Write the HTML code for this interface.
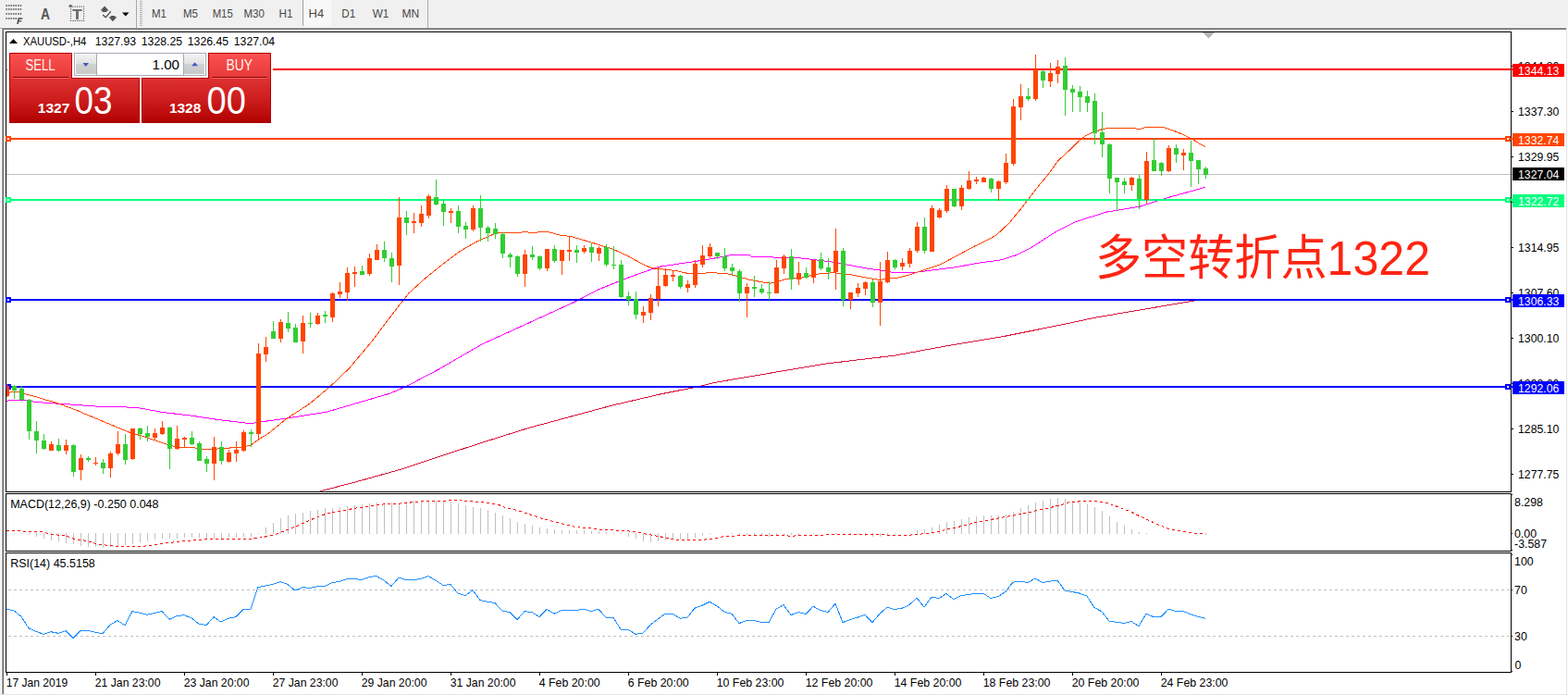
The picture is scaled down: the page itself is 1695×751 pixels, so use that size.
<!DOCTYPE html>
<html><head><meta charset="utf-8"><title>XAUUSD H4</title>
<style>
html,body{margin:0;padding:0;background:#fff;}
body{width:1695px;height:751px;overflow:hidden;position:relative;font-family:"Liberation Sans",sans-serif;}
svg{position:absolute;left:0;top:0;}
svg text{font-family:"Liberation Sans",sans-serif;}
</style></head><body>
<svg width="1695" height="751" viewBox="0 0 1695 751">
<rect x="0" y="0" width="1695" height="751" fill="#ffffff"/>
<rect x="0" y="0" width="1695" height="29" fill="#f0f0f0"/>
<rect x="0" y="29" width="1695" height="1" fill="#f8f8f8"/>
<rect x="0" y="30" width="1693" height="1" fill="#a0a0a0"/>
<rect x="2" y="31" width="1691" height="1" fill="#696969"/>
<rect x="0" y="31" width="1" height="720" fill="#f0f0f0"/>
<rect x="1" y="31" width="1" height="720" fill="#ffffff"/>
<rect x="2" y="31" width="1" height="719" fill="#a0a0a0"/>
<rect x="3" y="32" width="1" height="718" fill="#696969"/>
<rect x="1693" y="30" width="1" height="721" fill="#e3e3e3"/>
<rect x="1694" y="30" width="1" height="721" fill="#ffffff"/>
<rect x="0" y="750" width="1695" height="1" fill="#e6e6e6"/>
<rect x="6" y="34" width="1628" height="1" fill="#000"/>
<rect x="6" y="531" width="1628" height="1" fill="#000"/>
<rect x="6" y="34" width="1" height="498" fill="#000"/>
<rect x="1633" y="34" width="1" height="498" fill="#000"/>
<rect x="6" y="533" width="1628" height="1" fill="#000"/>
<rect x="6" y="595" width="1628" height="1" fill="#000"/>
<rect x="6" y="533" width="1" height="63" fill="#000"/>
<rect x="1633" y="533" width="1" height="63" fill="#000"/>
<rect x="6" y="597" width="1628" height="1" fill="#000"/>
<rect x="6" y="726" width="1628" height="1" fill="#000"/>
<rect x="6" y="597" width="1" height="130" fill="#000"/>
<rect x="1633" y="597" width="1" height="130" fill="#000"/>
<defs><clipPath id="cm"><rect x="7" y="35" width="1626" height="496"/></clipPath><clipPath id="c2"><rect x="7" y="534" width="1626" height="61"/></clipPath><clipPath id="c3"><rect x="7" y="598" width="1626" height="128"/></clipPath></defs>
<g clip-path="url(#cm)" shape-rendering="crispEdges">
<rect x="7" y="188" width="1626" height="1" fill="#c0c0c0"/>
<polyline points="346.2,530.8 386.0,520.4 433.2,507.2 477.5,492.4 530.6,475.3 571.9,462.3 610.2,452.0 660.4,438.4 713.5,426.0 757.7,417.2 772.5,413.4 830.0,403.6 893.7,392.9 967.5,384.1 1026.5,373.2 1085.5,363.4 1144.5,351.6 1182.8,343.4 1233.0,334.8 1290.5,325.1 1303.0,323.2" fill="none" stroke="#dc143c" stroke-width="1"/>
<polyline points="7.0,433.5 11.5,432.5 27.5,432.5 32.0,433.5 40.0,434.5 52.0,435.5 68.0,436.5 84.0,437.5 98.0,438.6 111.9,439.8 130.5,439.7 149.2,440.6 177.1,445.7 205.1,448.9 233.1,453.1 251.7,455.4 271.2,457.7 278.6,456.4 310.0,452.0 353.0,445.2 422.0,425.0 439.0,417.6 474.4,399.0 521.0,372.0 560.0,354.2 600.0,336.0 624.2,324.8 646.6,313.0 674.6,301.8 693.2,294.9 711.9,288.4 730.5,285.6 749.2,282.8 764.1,280.6 779.0,277.8 788.3,275.9 810.7,275.9 812.6,277.2 838.7,278.1 868.5,279.1 879.7,280.6 898.6,282.9 917.3,286.4 935.9,289.8 954.6,292.6 965.8,294.4 991.9,294.0 1010.5,291.6 1034.8,288.5 1057.1,284.2 1081.4,281.0 1098.2,275.8 1115.0,267.4 1141.1,250.6 1163.4,239.4 1180.0,234.2 1195.3,229.2 1231.9,223.2 1259.2,214.5 1302.9,202.3" fill="none" stroke="#ff00ff" stroke-width="1"/>
<polyline points="7.0,428.5 11.5,423.6 20.0,423.6 26.0,425.5 32.0,426.9 41.3,429.3 50.1,432.3 59.0,434.5 67.8,437.7 76.7,441.0 85.0,444.2 93.2,447.8 121.2,459.5 139.8,467.1 158.5,472.7 180.9,480.2 193.9,483.9 210.7,483.9 221.9,485.8 238.7,484.8 261.0,483.0 270.4,481.5 279.7,474.6 288.0,470.0 310.3,452.1 334.6,436.3 357.0,417.6 377.5,398.0 401.7,369.2 430.6,331.0 441.9,316.8 460.5,300.0 479.2,285.1 497.8,271.1 516.5,260.5 535.1,252.5 542.6,251.2 563.0,251.2 568.7,250.2 572.4,251.5 587.3,250.6 592.9,250.6 606.0,254.3 617.0,255.4 637.3,261.4 661.5,268.8 678.3,276.3 693.2,284.7 704.4,289.7 719.3,291.2 730.5,292.5 743.6,295.5 758.5,295.5 767.8,294.4 786.5,295.9 797.7,298.7 810.7,302.4 823.8,304.8 832.2,306.1 840.5,304.2 851.7,301.1 864.8,300.5 876.0,297.7 887.2,295.5 900.5,294.8 917.3,296.3 935.9,300.0 950.9,302.4 962.0,300.9 969.5,300.4 984.4,296.7 999.3,291.6 1016.1,286.0 1034.8,276.1 1053.4,266.1 1070.2,258.1 1077.7,253.4 1090.7,241.3 1103.8,225.4 1113.1,213.3 1122.4,201.2 1131.5,190.5 1144.4,173.1 1155.6,162.8 1160.0,158.6 1168.7,150.1 1174.0,146.5 1180.0,143.7 1186.0,141.8 1189.0,140.3 1194.0,139.3 1196.0,138.5 1227.5,138.5 1229.0,139.5 1233.0,139.5 1235.5,138.5 1238.0,137.5 1257.5,137.5 1265.1,139.9 1272.0,142.6 1278.9,145.3 1285.0,148.6 1291.2,151.8 1296.6,155.2 1302.7,158.5" fill="none" stroke="#ff4500" stroke-width="1"/>
<rect x="295" y="74" width="1338" height="2" fill="#ff0000"/>
<rect x="7" y="75" width="1" height="1" fill="#ff0000"/>
<rect x="7" y="149" width="1626" height="2" fill="#ff4500"/>
<rect x="7" y="215" width="1626" height="2" fill="#00ff7f"/>
<rect x="7" y="323" width="1626" height="2" fill="#0000ff"/>
<rect x="7" y="417" width="1626" height="2" fill="#0000ff"/>
</g>
<rect x="6" y="147" width="6" height="6" fill="#ff4500" shape-rendering="crispEdges"/><rect x="8" y="149" width="2" height="2" fill="#fff" shape-rendering="crispEdges"/>
<rect x="1627" y="147" width="6" height="6" fill="#ff4500" shape-rendering="crispEdges"/><rect x="1629" y="149" width="2" height="2" fill="#fff" shape-rendering="crispEdges"/>
<rect x="1633" y="149" width="2" height="2" fill="#ff4500" shape-rendering="crispEdges"/>
<rect x="6" y="213" width="6" height="6" fill="#00ff7f" shape-rendering="crispEdges"/><rect x="8" y="215" width="2" height="2" fill="#fff" shape-rendering="crispEdges"/>
<rect x="1627" y="213" width="6" height="6" fill="#00ff7f" shape-rendering="crispEdges"/><rect x="1629" y="215" width="2" height="2" fill="#fff" shape-rendering="crispEdges"/>
<rect x="1633" y="215" width="2" height="2" fill="#00ff7f" shape-rendering="crispEdges"/>
<rect x="6" y="321" width="6" height="6" fill="#0000ff" shape-rendering="crispEdges"/><rect x="8" y="323" width="2" height="2" fill="#fff" shape-rendering="crispEdges"/>
<rect x="1627" y="321" width="6" height="6" fill="#0000ff" shape-rendering="crispEdges"/><rect x="1629" y="323" width="2" height="2" fill="#fff" shape-rendering="crispEdges"/>
<rect x="1633" y="323" width="2" height="2" fill="#0000ff" shape-rendering="crispEdges"/>
<rect x="6" y="415" width="6" height="6" fill="#0000ff" shape-rendering="crispEdges"/><rect x="8" y="417" width="2" height="2" fill="#fff" shape-rendering="crispEdges"/>
<rect x="1627" y="415" width="6" height="6" fill="#0000ff" shape-rendering="crispEdges"/><rect x="1629" y="417" width="2" height="2" fill="#fff" shape-rendering="crispEdges"/>
<rect x="1633" y="417" width="2" height="2" fill="#0000ff" shape-rendering="crispEdges"/>
<rect x="1633" y="74" width="2" height="2" fill="#ff0000" shape-rendering="crispEdges"/>
<g clip-path="url(#cm)" shape-rendering="crispEdges">
<rect x="7" y="415" width="1" height="14" fill="#ff4500"/>
<rect x="5" y="417" width="5" height="11" fill="#ff4500"/>
<rect x="15" y="416" width="1" height="15" fill="#32cd32"/>
<rect x="13" y="417" width="5" height="5" fill="#32cd32"/>
<rect x="23" y="417" width="1" height="17" fill="#32cd32"/>
<rect x="21" y="420" width="5" height="12" fill="#32cd32"/>
<rect x="31" y="431" width="1" height="44" fill="#32cd32"/>
<rect x="29" y="432" width="5" height="34" fill="#32cd32"/>
<rect x="39" y="455" width="1" height="35" fill="#32cd32"/>
<rect x="37" y="466" width="5" height="10" fill="#32cd32"/>
<rect x="47" y="469" width="1" height="17" fill="#32cd32"/>
<rect x="45" y="476" width="5" height="9" fill="#32cd32"/>
<rect x="55" y="477" width="1" height="10" fill="#ff4500"/>
<rect x="53" y="480" width="5" height="7" fill="#ff4500"/>
<rect x="63" y="474" width="1" height="14" fill="#32cd32"/>
<rect x="61" y="481" width="5" height="6" fill="#32cd32"/>
<rect x="71" y="475" width="1" height="16" fill="#ff4500"/>
<rect x="69" y="481" width="5" height="6" fill="#ff4500"/>
<rect x="79" y="480" width="1" height="35" fill="#32cd32"/>
<rect x="77" y="481" width="5" height="29" fill="#32cd32"/>
<rect x="87" y="491" width="1" height="28" fill="#ff4500"/>
<rect x="85" y="495" width="5" height="13" fill="#ff4500"/>
<rect x="95" y="493" width="1" height="6" fill="#32cd32"/>
<rect x="93" y="495" width="5" height="2" fill="#32cd32"/>
<rect x="103" y="494" width="1" height="9" fill="#ff4500"/>
<rect x="101" y="500" width="5" height="1" fill="#ff4500"/>
<rect x="111" y="496" width="1" height="16" fill="#32cd32"/>
<rect x="109" y="500" width="5" height="6" fill="#32cd32"/>
<rect x="119" y="488" width="1" height="28" fill="#ff4500"/>
<rect x="117" y="490" width="5" height="16" fill="#ff4500"/>
<rect x="127" y="466" width="1" height="26" fill="#ff4500"/>
<rect x="125" y="480" width="5" height="10" fill="#ff4500"/>
<rect x="135" y="469" width="1" height="33" fill="#32cd32"/>
<rect x="133" y="480" width="5" height="17" fill="#32cd32"/>
<rect x="143" y="463" width="1" height="34" fill="#ff4500"/>
<rect x="141" y="463" width="5" height="33" fill="#ff4500"/>
<rect x="151" y="462" width="1" height="13" fill="#32cd32"/>
<rect x="149" y="463" width="5" height="6" fill="#32cd32"/>
<rect x="159" y="460" width="1" height="17" fill="#32cd32"/>
<rect x="157" y="468" width="5" height="4" fill="#32cd32"/>
<rect x="167" y="463" width="1" height="13" fill="#ff4500"/>
<rect x="165" y="468" width="5" height="5" fill="#ff4500"/>
<rect x="175" y="455" width="1" height="15" fill="#ff4500"/>
<rect x="173" y="462" width="5" height="7" fill="#ff4500"/>
<rect x="183" y="461" width="1" height="46" fill="#32cd32"/>
<rect x="181" y="462" width="5" height="23" fill="#32cd32"/>
<rect x="191" y="460" width="1" height="26" fill="#ff4500"/>
<rect x="189" y="474" width="5" height="11" fill="#ff4500"/>
<rect x="199" y="472" width="1" height="12" fill="#ff4500"/>
<rect x="197" y="473" width="5" height="2" fill="#ff4500"/>
<rect x="207" y="466" width="1" height="15" fill="#32cd32"/>
<rect x="205" y="473" width="5" height="7" fill="#32cd32"/>
<rect x="215" y="477" width="1" height="21" fill="#32cd32"/>
<rect x="213" y="479" width="5" height="19" fill="#32cd32"/>
<rect x="223" y="493" width="1" height="17" fill="#32cd32"/>
<rect x="221" y="496" width="5" height="5" fill="#32cd32"/>
<rect x="231" y="472" width="1" height="47" fill="#ff4500"/>
<rect x="229" y="483" width="5" height="18" fill="#ff4500"/>
<rect x="239" y="477" width="1" height="25" fill="#32cd32"/>
<rect x="237" y="483" width="5" height="15" fill="#32cd32"/>
<rect x="247" y="486" width="1" height="14" fill="#ff4500"/>
<rect x="245" y="489" width="5" height="10" fill="#ff4500"/>
<rect x="255" y="477" width="1" height="22" fill="#ff4500"/>
<rect x="253" y="486" width="5" height="4" fill="#ff4500"/>
<rect x="263" y="465" width="1" height="23" fill="#ff4500"/>
<rect x="261" y="467" width="5" height="20" fill="#ff4500"/>
<rect x="271" y="464" width="1" height="19" fill="#32cd32"/>
<rect x="269" y="467" width="5" height="2" fill="#32cd32"/>
<rect x="279" y="371" width="1" height="105" fill="#ff4500"/>
<rect x="277" y="382" width="5" height="87" fill="#ff4500"/>
<rect x="287" y="364" width="1" height="27" fill="#ff4500"/>
<rect x="285" y="375" width="5" height="8" fill="#ff4500"/>
<rect x="295" y="347" width="1" height="19" fill="#32cd32"/>
<rect x="293" y="358" width="5" height="8" fill="#32cd32"/>
<rect x="303" y="345" width="1" height="25" fill="#ff4500"/>
<rect x="301" y="348" width="5" height="18" fill="#ff4500"/>
<rect x="311" y="337" width="1" height="22" fill="#32cd32"/>
<rect x="309" y="349" width="5" height="6" fill="#32cd32"/>
<rect x="319" y="350" width="1" height="20" fill="#32cd32"/>
<rect x="317" y="354" width="5" height="16" fill="#32cd32"/>
<rect x="327" y="341" width="1" height="41" fill="#ff4500"/>
<rect x="325" y="349" width="5" height="20" fill="#ff4500"/>
<rect x="335" y="338" width="1" height="16" fill="#32cd32"/>
<rect x="333" y="349" width="5" height="1" fill="#32cd32"/>
<rect x="343" y="338" width="1" height="13" fill="#ff4500"/>
<rect x="341" y="341" width="5" height="9" fill="#ff4500"/>
<rect x="351" y="336" width="1" height="13" fill="#32cd32"/>
<rect x="349" y="340" width="5" height="2" fill="#32cd32"/>
<rect x="359" y="316" width="1" height="32" fill="#ff4500"/>
<rect x="357" y="317" width="5" height="26" fill="#ff4500"/>
<rect x="367" y="305" width="1" height="17" fill="#ff4500"/>
<rect x="365" y="315" width="5" height="3" fill="#ff4500"/>
<rect x="375" y="289" width="1" height="36" fill="#ff4500"/>
<rect x="373" y="295" width="5" height="21" fill="#ff4500"/>
<rect x="383" y="288" width="1" height="22" fill="#ff4500"/>
<rect x="381" y="294" width="5" height="2" fill="#ff4500"/>
<rect x="391" y="287" width="1" height="10" fill="#32cd32"/>
<rect x="389" y="293" width="5" height="4" fill="#32cd32"/>
<rect x="399" y="274" width="1" height="24" fill="#ff4500"/>
<rect x="397" y="279" width="5" height="17" fill="#ff4500"/>
<rect x="407" y="264" width="1" height="17" fill="#ff4500"/>
<rect x="405" y="270" width="5" height="11" fill="#ff4500"/>
<rect x="415" y="261" width="1" height="22" fill="#32cd32"/>
<rect x="413" y="270" width="5" height="9" fill="#32cd32"/>
<rect x="423" y="273" width="1" height="32" fill="#32cd32"/>
<rect x="421" y="279" width="5" height="9" fill="#32cd32"/>
<rect x="431" y="213" width="1" height="95" fill="#ff4500"/>
<rect x="429" y="235" width="5" height="52" fill="#ff4500"/>
<rect x="439" y="228" width="1" height="26" fill="#32cd32"/>
<rect x="437" y="235" width="5" height="6" fill="#32cd32"/>
<rect x="447" y="230" width="1" height="22" fill="#ff4500"/>
<rect x="445" y="239" width="5" height="2" fill="#ff4500"/>
<rect x="455" y="222" width="1" height="23" fill="#ff4500"/>
<rect x="453" y="231" width="5" height="10" fill="#ff4500"/>
<rect x="463" y="210" width="1" height="26" fill="#ff4500"/>
<rect x="461" y="212" width="5" height="21" fill="#ff4500"/>
<rect x="471" y="194" width="1" height="28" fill="#32cd32"/>
<rect x="469" y="213" width="5" height="8" fill="#32cd32"/>
<rect x="479" y="216" width="1" height="28" fill="#32cd32"/>
<rect x="477" y="220" width="5" height="9" fill="#32cd32"/>
<rect x="487" y="225" width="1" height="16" fill="#ff4500"/>
<rect x="485" y="228" width="5" height="2" fill="#ff4500"/>
<rect x="495" y="222" width="1" height="30" fill="#32cd32"/>
<rect x="493" y="228" width="5" height="17" fill="#32cd32"/>
<rect x="503" y="240" width="1" height="18" fill="#32cd32"/>
<rect x="501" y="244" width="5" height="4" fill="#32cd32"/>
<rect x="511" y="222" width="1" height="28" fill="#ff4500"/>
<rect x="509" y="225" width="5" height="23" fill="#ff4500"/>
<rect x="519" y="211" width="1" height="50" fill="#32cd32"/>
<rect x="517" y="225" width="5" height="21" fill="#32cd32"/>
<rect x="527" y="244" width="1" height="17" fill="#32cd32"/>
<rect x="525" y="246" width="5" height="6" fill="#32cd32"/>
<rect x="535" y="241" width="1" height="17" fill="#32cd32"/>
<rect x="533" y="247" width="5" height="6" fill="#32cd32"/>
<rect x="543" y="251" width="1" height="28" fill="#32cd32"/>
<rect x="541" y="253" width="5" height="21" fill="#32cd32"/>
<rect x="551" y="273" width="1" height="16" fill="#32cd32"/>
<rect x="549" y="275" width="5" height="3" fill="#32cd32"/>
<rect x="559" y="276" width="1" height="23" fill="#32cd32"/>
<rect x="557" y="277" width="5" height="19" fill="#32cd32"/>
<rect x="567" y="270" width="1" height="40" fill="#ff4500"/>
<rect x="565" y="275" width="5" height="21" fill="#ff4500"/>
<rect x="575" y="266" width="1" height="15" fill="#32cd32"/>
<rect x="573" y="275" width="5" height="3" fill="#32cd32"/>
<rect x="583" y="276" width="1" height="16" fill="#32cd32"/>
<rect x="581" y="277" width="5" height="13" fill="#32cd32"/>
<rect x="591" y="269" width="1" height="24" fill="#ff4500"/>
<rect x="589" y="269" width="5" height="21" fill="#ff4500"/>
<rect x="599" y="265" width="1" height="19" fill="#32cd32"/>
<rect x="597" y="269" width="5" height="13" fill="#32cd32"/>
<rect x="607" y="270" width="1" height="27" fill="#ff4500"/>
<rect x="605" y="270" width="5" height="12" fill="#ff4500"/>
<rect x="615" y="256" width="1" height="26" fill="#ff4500"/>
<rect x="613" y="270" width="5" height="2" fill="#ff4500"/>
<rect x="623" y="265" width="1" height="19" fill="#32cd32"/>
<rect x="621" y="270" width="5" height="3" fill="#32cd32"/>
<rect x="631" y="265" width="1" height="9" fill="#ff4500"/>
<rect x="629" y="268" width="5" height="4" fill="#ff4500"/>
<rect x="639" y="262" width="1" height="21" fill="#32cd32"/>
<rect x="637" y="267" width="5" height="6" fill="#32cd32"/>
<rect x="647" y="266" width="1" height="16" fill="#ff4500"/>
<rect x="645" y="268" width="5" height="6" fill="#ff4500"/>
<rect x="655" y="264" width="1" height="24" fill="#32cd32"/>
<rect x="653" y="267" width="5" height="19" fill="#32cd32"/>
<rect x="663" y="266" width="1" height="25" fill="#32cd32"/>
<rect x="661" y="286" width="5" height="1" fill="#32cd32"/>
<rect x="671" y="281" width="1" height="41" fill="#32cd32"/>
<rect x="669" y="286" width="5" height="35" fill="#32cd32"/>
<rect x="679" y="315" width="1" height="15" fill="#32cd32"/>
<rect x="677" y="320" width="5" height="4" fill="#32cd32"/>
<rect x="687" y="315" width="1" height="30" fill="#32cd32"/>
<rect x="685" y="323" width="5" height="17" fill="#32cd32"/>
<rect x="695" y="331" width="1" height="18" fill="#ff4500"/>
<rect x="693" y="337" width="5" height="4" fill="#ff4500"/>
<rect x="703" y="318" width="1" height="28" fill="#ff4500"/>
<rect x="701" y="322" width="5" height="16" fill="#ff4500"/>
<rect x="711" y="288" width="1" height="43" fill="#ff4500"/>
<rect x="709" y="309" width="5" height="14" fill="#ff4500"/>
<rect x="719" y="290" width="1" height="20" fill="#ff4500"/>
<rect x="717" y="297" width="5" height="12" fill="#ff4500"/>
<rect x="727" y="292" width="1" height="12" fill="#ff4500"/>
<rect x="725" y="297" width="5" height="2" fill="#ff4500"/>
<rect x="735" y="297" width="1" height="15" fill="#32cd32"/>
<rect x="733" y="298" width="5" height="12" fill="#32cd32"/>
<rect x="743" y="303" width="1" height="13" fill="#ff4500"/>
<rect x="741" y="307" width="5" height="4" fill="#ff4500"/>
<rect x="751" y="281" width="1" height="30" fill="#ff4500"/>
<rect x="749" y="285" width="5" height="23" fill="#ff4500"/>
<rect x="759" y="265" width="1" height="24" fill="#ff4500"/>
<rect x="757" y="276" width="5" height="10" fill="#ff4500"/>
<rect x="767" y="263" width="1" height="16" fill="#ff4500"/>
<rect x="765" y="267" width="5" height="10" fill="#ff4500"/>
<rect x="775" y="273" width="1" height="7" fill="#32cd32"/>
<rect x="773" y="273" width="5" height="4" fill="#32cd32"/>
<rect x="783" y="268" width="1" height="25" fill="#32cd32"/>
<rect x="781" y="277" width="5" height="13" fill="#32cd32"/>
<rect x="791" y="285" width="1" height="13" fill="#32cd32"/>
<rect x="789" y="289" width="5" height="4" fill="#32cd32"/>
<rect x="799" y="291" width="1" height="35" fill="#32cd32"/>
<rect x="797" y="293" width="5" height="24" fill="#32cd32"/>
<rect x="807" y="306" width="1" height="37" fill="#ff4500"/>
<rect x="805" y="310" width="5" height="7" fill="#ff4500"/>
<rect x="815" y="298" width="1" height="23" fill="#32cd32"/>
<rect x="813" y="310" width="5" height="2" fill="#32cd32"/>
<rect x="823" y="307" width="1" height="11" fill="#32cd32"/>
<rect x="821" y="312" width="5" height="4" fill="#32cd32"/>
<rect x="831" y="304" width="1" height="20" fill="#32cd32"/>
<rect x="829" y="316" width="5" height="1" fill="#32cd32"/>
<rect x="839" y="281" width="1" height="36" fill="#ff4500"/>
<rect x="837" y="289" width="5" height="28" fill="#ff4500"/>
<rect x="847" y="275" width="1" height="21" fill="#ff4500"/>
<rect x="845" y="277" width="5" height="13" fill="#ff4500"/>
<rect x="855" y="269" width="1" height="44" fill="#32cd32"/>
<rect x="853" y="277" width="5" height="25" fill="#32cd32"/>
<rect x="863" y="283" width="1" height="25" fill="#ff4500"/>
<rect x="861" y="295" width="5" height="7" fill="#ff4500"/>
<rect x="871" y="289" width="1" height="12" fill="#32cd32"/>
<rect x="869" y="295" width="5" height="5" fill="#32cd32"/>
<rect x="879" y="280" width="1" height="26" fill="#ff4500"/>
<rect x="877" y="281" width="5" height="19" fill="#ff4500"/>
<rect x="887" y="273" width="1" height="19" fill="#32cd32"/>
<rect x="885" y="280" width="5" height="10" fill="#32cd32"/>
<rect x="895" y="279" width="1" height="23" fill="#32cd32"/>
<rect x="893" y="289" width="5" height="5" fill="#32cd32"/>
<rect x="903" y="247" width="1" height="66" fill="#ff4500"/>
<rect x="901" y="271" width="5" height="23" fill="#ff4500"/>
<rect x="911" y="268" width="1" height="63" fill="#32cd32"/>
<rect x="909" y="271" width="5" height="53" fill="#32cd32"/>
<rect x="919" y="316" width="1" height="18" fill="#ff4500"/>
<rect x="917" y="316" width="5" height="8" fill="#ff4500"/>
<rect x="927" y="306" width="1" height="15" fill="#ff4500"/>
<rect x="925" y="311" width="5" height="6" fill="#ff4500"/>
<rect x="935" y="304" width="1" height="15" fill="#ff4500"/>
<rect x="933" y="305" width="5" height="7" fill="#ff4500"/>
<rect x="943" y="302" width="1" height="30" fill="#32cd32"/>
<rect x="941" y="305" width="5" height="22" fill="#32cd32"/>
<rect x="951" y="283" width="1" height="69" fill="#ff4500"/>
<rect x="949" y="304" width="5" height="23" fill="#ff4500"/>
<rect x="959" y="272" width="1" height="34" fill="#ff4500"/>
<rect x="957" y="281" width="5" height="24" fill="#ff4500"/>
<rect x="967" y="280" width="1" height="11" fill="#32cd32"/>
<rect x="965" y="281" width="5" height="8" fill="#32cd32"/>
<rect x="975" y="279" width="1" height="13" fill="#ff4500"/>
<rect x="973" y="284" width="5" height="4" fill="#ff4500"/>
<rect x="983" y="268" width="1" height="21" fill="#ff4500"/>
<rect x="981" y="271" width="5" height="14" fill="#ff4500"/>
<rect x="991" y="240" width="1" height="33" fill="#ff4500"/>
<rect x="989" y="245" width="5" height="26" fill="#ff4500"/>
<rect x="999" y="235" width="1" height="39" fill="#32cd32"/>
<rect x="997" y="245" width="5" height="26" fill="#32cd32"/>
<rect x="1007" y="222" width="1" height="50" fill="#ff4500"/>
<rect x="1005" y="225" width="5" height="47" fill="#ff4500"/>
<rect x="1015" y="225" width="1" height="11" fill="#ff4500"/>
<rect x="1013" y="227" width="5" height="8" fill="#ff4500"/>
<rect x="1023" y="200" width="1" height="30" fill="#ff4500"/>
<rect x="1021" y="204" width="5" height="24" fill="#ff4500"/>
<rect x="1031" y="204" width="1" height="20" fill="#32cd32"/>
<rect x="1029" y="204" width="5" height="19" fill="#32cd32"/>
<rect x="1039" y="200" width="1" height="27" fill="#ff4500"/>
<rect x="1037" y="203" width="5" height="20" fill="#ff4500"/>
<rect x="1047" y="185" width="1" height="20" fill="#ff4500"/>
<rect x="1045" y="195" width="5" height="9" fill="#ff4500"/>
<rect x="1055" y="191" width="1" height="8" fill="#ff4500"/>
<rect x="1053" y="194" width="5" height="2" fill="#ff4500"/>
<rect x="1063" y="191" width="1" height="6" fill="#ff4500"/>
<rect x="1061" y="192" width="5" height="5" fill="#ff4500"/>
<rect x="1071" y="192" width="1" height="16" fill="#32cd32"/>
<rect x="1069" y="193" width="5" height="11" fill="#32cd32"/>
<rect x="1079" y="195" width="1" height="22" fill="#ff4500"/>
<rect x="1077" y="196" width="5" height="8" fill="#ff4500"/>
<rect x="1087" y="166" width="1" height="33" fill="#ff4500"/>
<rect x="1085" y="176" width="5" height="21" fill="#ff4500"/>
<rect x="1095" y="107" width="1" height="72" fill="#ff4500"/>
<rect x="1093" y="115" width="5" height="62" fill="#ff4500"/>
<rect x="1103" y="91" width="1" height="39" fill="#ff4500"/>
<rect x="1101" y="104" width="5" height="12" fill="#ff4500"/>
<rect x="1111" y="95" width="1" height="14" fill="#32cd32"/>
<rect x="1109" y="104" width="5" height="3" fill="#32cd32"/>
<rect x="1119" y="59" width="1" height="50" fill="#ff4500"/>
<rect x="1117" y="75" width="5" height="32" fill="#ff4500"/>
<rect x="1127" y="76" width="1" height="19" fill="#32cd32"/>
<rect x="1125" y="77" width="5" height="10" fill="#32cd32"/>
<rect x="1135" y="68" width="1" height="26" fill="#ff4500"/>
<rect x="1133" y="79" width="5" height="9" fill="#ff4500"/>
<rect x="1143" y="65" width="1" height="25" fill="#ff4500"/>
<rect x="1141" y="72" width="5" height="8" fill="#ff4500"/>
<rect x="1151" y="62" width="1" height="63" fill="#32cd32"/>
<rect x="1149" y="71" width="5" height="26" fill="#32cd32"/>
<rect x="1159" y="92" width="1" height="29" fill="#32cd32"/>
<rect x="1157" y="96" width="5" height="4" fill="#32cd32"/>
<rect x="1167" y="93" width="1" height="28" fill="#32cd32"/>
<rect x="1165" y="99" width="5" height="6" fill="#32cd32"/>
<rect x="1175" y="98" width="1" height="23" fill="#32cd32"/>
<rect x="1173" y="104" width="5" height="7" fill="#32cd32"/>
<rect x="1183" y="101" width="1" height="55" fill="#32cd32"/>
<rect x="1181" y="109" width="5" height="35" fill="#32cd32"/>
<rect x="1191" y="121" width="1" height="49" fill="#32cd32"/>
<rect x="1189" y="143" width="5" height="13" fill="#32cd32"/>
<rect x="1199" y="155" width="1" height="54" fill="#32cd32"/>
<rect x="1197" y="156" width="5" height="37" fill="#32cd32"/>
<rect x="1207" y="192" width="1" height="36" fill="#32cd32"/>
<rect x="1205" y="192" width="5" height="5" fill="#32cd32"/>
<rect x="1215" y="192" width="1" height="17" fill="#32cd32"/>
<rect x="1213" y="196" width="5" height="4" fill="#32cd32"/>
<rect x="1223" y="191" width="1" height="15" fill="#ff4500"/>
<rect x="1221" y="192" width="5" height="8" fill="#ff4500"/>
<rect x="1231" y="189" width="1" height="37" fill="#32cd32"/>
<rect x="1229" y="193" width="5" height="22" fill="#32cd32"/>
<rect x="1239" y="164" width="1" height="56" fill="#ff4500"/>
<rect x="1237" y="174" width="5" height="42" fill="#ff4500"/>
<rect x="1247" y="149" width="1" height="36" fill="#32cd32"/>
<rect x="1245" y="173" width="5" height="12" fill="#32cd32"/>
<rect x="1255" y="175" width="1" height="15" fill="#32cd32"/>
<rect x="1253" y="176" width="5" height="9" fill="#32cd32"/>
<rect x="1263" y="157" width="1" height="29" fill="#ff4500"/>
<rect x="1261" y="160" width="5" height="25" fill="#ff4500"/>
<rect x="1271" y="156" width="1" height="20" fill="#32cd32"/>
<rect x="1269" y="160" width="5" height="7" fill="#32cd32"/>
<rect x="1279" y="161" width="1" height="23" fill="#ff4500"/>
<rect x="1277" y="165" width="5" height="3" fill="#ff4500"/>
<rect x="1287" y="152" width="1" height="50" fill="#32cd32"/>
<rect x="1285" y="165" width="5" height="9" fill="#32cd32"/>
<rect x="1295" y="173" width="1" height="26" fill="#32cd32"/>
<rect x="1293" y="173" width="5" height="10" fill="#32cd32"/>
<rect x="1303" y="180" width="1" height="13" fill="#32cd32"/>
<rect x="1301" y="182" width="5" height="7" fill="#32cd32"/>
</g>
<polygon points="1300,35 1313,35 1306.5,41.5" fill="#b4b4b4"/>
<g clip-path="url(#c2)" shape-rendering="crispEdges">
<rect x="15" y="576" width="1" height="1" fill="#c0c0c0"/>
<rect x="23" y="576" width="1" height="1" fill="#c0c0c0"/>
<rect x="31" y="576" width="1" height="2" fill="#c0c0c0"/>
<rect x="39" y="576" width="1" height="4" fill="#c0c0c0"/>
<rect x="47" y="576" width="1" height="6" fill="#c0c0c0"/>
<rect x="55" y="576" width="1" height="8" fill="#c0c0c0"/>
<rect x="63" y="576" width="1" height="9" fill="#c0c0c0"/>
<rect x="71" y="576" width="1" height="11" fill="#c0c0c0"/>
<rect x="79" y="576" width="1" height="12" fill="#c0c0c0"/>
<rect x="87" y="576" width="1" height="14" fill="#c0c0c0"/>
<rect x="95" y="576" width="1" height="15" fill="#c0c0c0"/>
<rect x="103" y="576" width="1" height="15" fill="#c0c0c0"/>
<rect x="111" y="576" width="1" height="16" fill="#c0c0c0"/>
<rect x="119" y="576" width="1" height="15" fill="#c0c0c0"/>
<rect x="127" y="576" width="1" height="14" fill="#c0c0c0"/>
<rect x="135" y="576" width="1" height="13" fill="#c0c0c0"/>
<rect x="143" y="576" width="1" height="12" fill="#c0c0c0"/>
<rect x="151" y="576" width="1" height="10" fill="#c0c0c0"/>
<rect x="159" y="576" width="1" height="9" fill="#c0c0c0"/>
<rect x="167" y="576" width="1" height="7" fill="#c0c0c0"/>
<rect x="175" y="576" width="1" height="6" fill="#c0c0c0"/>
<rect x="183" y="576" width="1" height="6" fill="#c0c0c0"/>
<rect x="191" y="576" width="1" height="6" fill="#c0c0c0"/>
<rect x="199" y="576" width="1" height="5" fill="#c0c0c0"/>
<rect x="207" y="576" width="1" height="5" fill="#c0c0c0"/>
<rect x="215" y="576" width="1" height="5" fill="#c0c0c0"/>
<rect x="223" y="576" width="1" height="6" fill="#c0c0c0"/>
<rect x="231" y="576" width="1" height="6" fill="#c0c0c0"/>
<rect x="239" y="576" width="1" height="6" fill="#c0c0c0"/>
<rect x="247" y="576" width="1" height="5" fill="#c0c0c0"/>
<rect x="255" y="576" width="1" height="5" fill="#c0c0c0"/>
<rect x="263" y="576" width="1" height="4" fill="#c0c0c0"/>
<rect x="271" y="576" width="1" height="4" fill="#c0c0c0"/>
<rect x="279" y="576" width="1" height="1" fill="#c0c0c0"/>
<rect x="287" y="570" width="1" height="7" fill="#c0c0c0"/>
<rect x="295" y="565" width="1" height="12" fill="#c0c0c0"/>
<rect x="303" y="560" width="1" height="17" fill="#c0c0c0"/>
<rect x="311" y="557" width="1" height="20" fill="#c0c0c0"/>
<rect x="319" y="555" width="1" height="22" fill="#c0c0c0"/>
<rect x="327" y="554" width="1" height="23" fill="#c0c0c0"/>
<rect x="335" y="552" width="1" height="25" fill="#c0c0c0"/>
<rect x="343" y="551" width="1" height="26" fill="#c0c0c0"/>
<rect x="351" y="549" width="1" height="28" fill="#c0c0c0"/>
<rect x="359" y="549" width="1" height="28" fill="#c0c0c0"/>
<rect x="367" y="548" width="1" height="29" fill="#c0c0c0"/>
<rect x="375" y="547" width="1" height="30" fill="#c0c0c0"/>
<rect x="383" y="546" width="1" height="31" fill="#c0c0c0"/>
<rect x="391" y="545" width="1" height="32" fill="#c0c0c0"/>
<rect x="399" y="544" width="1" height="33" fill="#c0c0c0"/>
<rect x="407" y="543" width="1" height="34" fill="#c0c0c0"/>
<rect x="415" y="543" width="1" height="34" fill="#c0c0c0"/>
<rect x="423" y="543" width="1" height="34" fill="#c0c0c0"/>
<rect x="431" y="543" width="1" height="34" fill="#c0c0c0"/>
<rect x="439" y="542" width="1" height="35" fill="#c0c0c0"/>
<rect x="447" y="541" width="1" height="36" fill="#c0c0c0"/>
<rect x="455" y="541" width="1" height="36" fill="#c0c0c0"/>
<rect x="463" y="541" width="1" height="36" fill="#c0c0c0"/>
<rect x="471" y="541" width="1" height="36" fill="#c0c0c0"/>
<rect x="479" y="541" width="1" height="36" fill="#c0c0c0"/>
<rect x="487" y="542" width="1" height="35" fill="#c0c0c0"/>
<rect x="495" y="544" width="1" height="33" fill="#c0c0c0"/>
<rect x="503" y="546" width="1" height="31" fill="#c0c0c0"/>
<rect x="511" y="548" width="1" height="29" fill="#c0c0c0"/>
<rect x="519" y="549" width="1" height="28" fill="#c0c0c0"/>
<rect x="527" y="551" width="1" height="26" fill="#c0c0c0"/>
<rect x="535" y="554" width="1" height="23" fill="#c0c0c0"/>
<rect x="543" y="557" width="1" height="20" fill="#c0c0c0"/>
<rect x="551" y="560" width="1" height="17" fill="#c0c0c0"/>
<rect x="559" y="564" width="1" height="13" fill="#c0c0c0"/>
<rect x="567" y="566" width="1" height="11" fill="#c0c0c0"/>
<rect x="575" y="568" width="1" height="9" fill="#c0c0c0"/>
<rect x="583" y="570" width="1" height="7" fill="#c0c0c0"/>
<rect x="591" y="571" width="1" height="6" fill="#c0c0c0"/>
<rect x="599" y="572" width="1" height="5" fill="#c0c0c0"/>
<rect x="607" y="573" width="1" height="4" fill="#c0c0c0"/>
<rect x="615" y="573" width="1" height="4" fill="#c0c0c0"/>
<rect x="623" y="573" width="1" height="4" fill="#c0c0c0"/>
<rect x="631" y="573" width="1" height="4" fill="#c0c0c0"/>
<rect x="639" y="574" width="1" height="3" fill="#c0c0c0"/>
<rect x="647" y="574" width="1" height="3" fill="#c0c0c0"/>
<rect x="655" y="575" width="1" height="2" fill="#c0c0c0"/>
<rect x="663" y="576" width="1" height="1" fill="#c0c0c0"/>
<rect x="671" y="576" width="1" height="1" fill="#c0c0c0"/>
<rect x="679" y="576" width="1" height="4" fill="#c0c0c0"/>
<rect x="687" y="576" width="1" height="6" fill="#c0c0c0"/>
<rect x="695" y="576" width="1" height="9" fill="#c0c0c0"/>
<rect x="703" y="576" width="1" height="10" fill="#c0c0c0"/>
<rect x="711" y="576" width="1" height="9" fill="#c0c0c0"/>
<rect x="719" y="576" width="1" height="8" fill="#c0c0c0"/>
<rect x="727" y="576" width="1" height="7" fill="#c0c0c0"/>
<rect x="735" y="576" width="1" height="7" fill="#c0c0c0"/>
<rect x="743" y="576" width="1" height="7" fill="#c0c0c0"/>
<rect x="751" y="576" width="1" height="5" fill="#c0c0c0"/>
<rect x="759" y="576" width="1" height="3" fill="#c0c0c0"/>
<rect x="767" y="576" width="1" height="1" fill="#c0c0c0"/>
<rect x="791" y="576" width="1" height="1" fill="#c0c0c0"/>
<rect x="799" y="576" width="1" height="2" fill="#c0c0c0"/>
<rect x="807" y="576" width="1" height="2" fill="#c0c0c0"/>
<rect x="815" y="576" width="1" height="3" fill="#c0c0c0"/>
<rect x="823" y="576" width="1" height="3" fill="#c0c0c0"/>
<rect x="831" y="576" width="1" height="4" fill="#c0c0c0"/>
<rect x="839" y="576" width="1" height="3" fill="#c0c0c0"/>
<rect x="847" y="576" width="1" height="2" fill="#c0c0c0"/>
<rect x="855" y="576" width="1" height="2" fill="#c0c0c0"/>
<rect x="863" y="576" width="1" height="2" fill="#c0c0c0"/>
<rect x="871" y="576" width="1" height="1" fill="#c0c0c0"/>
<rect x="879" y="576" width="1" height="1" fill="#c0c0c0"/>
<rect x="903" y="576" width="1" height="1" fill="#c0c0c0"/>
<rect x="911" y="576" width="1" height="2" fill="#c0c0c0"/>
<rect x="919" y="576" width="1" height="2" fill="#c0c0c0"/>
<rect x="927" y="576" width="1" height="2" fill="#c0c0c0"/>
<rect x="935" y="576" width="1" height="3" fill="#c0c0c0"/>
<rect x="943" y="576" width="1" height="4" fill="#c0c0c0"/>
<rect x="951" y="576" width="1" height="4" fill="#c0c0c0"/>
<rect x="959" y="576" width="1" height="2" fill="#c0c0c0"/>
<rect x="967" y="576" width="1" height="1" fill="#c0c0c0"/>
<rect x="983" y="576" width="1" height="1" fill="#c0c0c0"/>
<rect x="991" y="573" width="1" height="4" fill="#c0c0c0"/>
<rect x="999" y="572" width="1" height="5" fill="#c0c0c0"/>
<rect x="1007" y="570" width="1" height="7" fill="#c0c0c0"/>
<rect x="1015" y="567" width="1" height="10" fill="#c0c0c0"/>
<rect x="1023" y="564" width="1" height="13" fill="#c0c0c0"/>
<rect x="1031" y="563" width="1" height="14" fill="#c0c0c0"/>
<rect x="1039" y="561" width="1" height="16" fill="#c0c0c0"/>
<rect x="1047" y="559" width="1" height="18" fill="#c0c0c0"/>
<rect x="1055" y="558" width="1" height="19" fill="#c0c0c0"/>
<rect x="1063" y="557" width="1" height="20" fill="#c0c0c0"/>
<rect x="1071" y="557" width="1" height="20" fill="#c0c0c0"/>
<rect x="1079" y="557" width="1" height="20" fill="#c0c0c0"/>
<rect x="1087" y="556" width="1" height="21" fill="#c0c0c0"/>
<rect x="1095" y="553" width="1" height="24" fill="#c0c0c0"/>
<rect x="1103" y="549" width="1" height="28" fill="#c0c0c0"/>
<rect x="1111" y="546" width="1" height="31" fill="#c0c0c0"/>
<rect x="1119" y="543" width="1" height="34" fill="#c0c0c0"/>
<rect x="1127" y="541" width="1" height="36" fill="#c0c0c0"/>
<rect x="1135" y="539" width="1" height="38" fill="#c0c0c0"/>
<rect x="1143" y="538" width="1" height="39" fill="#c0c0c0"/>
<rect x="1151" y="539" width="1" height="38" fill="#c0c0c0"/>
<rect x="1159" y="541" width="1" height="36" fill="#c0c0c0"/>
<rect x="1167" y="543" width="1" height="34" fill="#c0c0c0"/>
<rect x="1175" y="545" width="1" height="32" fill="#c0c0c0"/>
<rect x="1183" y="548" width="1" height="29" fill="#c0c0c0"/>
<rect x="1191" y="552" width="1" height="25" fill="#c0c0c0"/>
<rect x="1199" y="558" width="1" height="19" fill="#c0c0c0"/>
<rect x="1207" y="564" width="1" height="13" fill="#c0c0c0"/>
<rect x="1215" y="568" width="1" height="9" fill="#c0c0c0"/>
<rect x="1223" y="572" width="1" height="5" fill="#c0c0c0"/>
<rect x="1231" y="575" width="1" height="2" fill="#c0c0c0"/>
<rect x="1239" y="576" width="1" height="1" fill="#c0c0c0"/>
<rect x="1303" y="576" width="1" height="2" fill="#c0c0c0"/>
<polyline points="7.0,573.4 24.8,574.1 44.6,574.6 54.5,577.1 71.9,579.1 79.3,582.3 94.1,584.5 104.0,587.7 118.9,589.7 128.8,590.5 153.6,590.5 173.4,587.7 193.3,585.3 213.1,583.3 232.9,582.3 272.5,582.3 284.9,580.3 296.1,578.3 304.8,574.6 319.6,569.2 334.5,562.2 351.8,555.5 361.7,553.1 386.5,548.8 406.3,546.1 414.9,544.9 434.7,543.9 449.6,542.4 464.4,541.4 481.8,541.4 486.7,540.2 499.1,540.2 504.1,541.4 518.9,542.4 528.8,543.9 538.8,545.1 543.7,547.6 558.6,551.3 573.4,556.0 588.3,561.0 600.7,564.2 613.1,567.2 623.0,569.7 642.8,571.1 647.8,572.4 677.5,573.6 692.4,575.9 709.7,579.1 732.0,583.3 756.8,583.5 769.2,582.3 781.6,579.8 801.4,578.6 829.7,578.3 854.5,579.1 881.8,578.6 904.1,577.3 953.6,577.3 961.0,578.3 983.3,578.3 990.8,577.3 1003.2,576.6 1015.6,574.1 1028.0,571.1 1040.3,568.4 1055.2,564.2 1072.5,561.2 1084.9,558.8 1097.3,556.8 1109.7,554.3 1122.1,551.3 1134.5,548.8 1146.9,545.6 1154.3,543.1 1171.7,541.4 1184.5,541.3 1190.4,542.4 1196.2,543.4 1202.3,545.4 1208.6,547.8 1214.4,550.2 1220.9,552.1 1226.5,555.0 1232.6,558.0 1238.4,560.8 1244.5,563.5 1250.5,566.4 1256.6,569.0 1262.4,571.3 1268.3,572.5 1274.4,573.3 1280.6,574.4 1286.4,575.5 1292.7,576.4 1303.0,576.6" fill="none" stroke="#ff0000" stroke-width="1" stroke-dasharray="3 3"/>
</g>
<g clip-path="url(#c3)" shape-rendering="crispEdges">
<line x1="9" y1="637.5" x2="1633" y2="637.5" stroke="#c0c0c0" stroke-width="1" stroke-dasharray="3 3"/>
<line x1="9" y1="687.5" x2="1633" y2="687.5" stroke="#c0c0c0" stroke-width="1" stroke-dasharray="3 3"/>
<polyline points="7.0,658.2 15.0,659.8 23.0,666.2 31.0,678.8 39.0,682.3 47.0,685.3 55.0,682.7 63.0,684.3 71.0,681.7 79.0,689.3 87.0,681.7 95.0,681.3 103.0,683.3 111.0,684.7 119.0,675.2 127.0,670.6 135.0,675.8 143.0,660.6 151.0,662.2 159.0,664.2 167.0,662.6 175.0,660.6 183.0,669.2 191.0,665.6 199.0,664.6 207.0,667.8 215.0,674.2 223.0,675.6 231.0,666.6 239.0,672.2 247.0,668.2 255.0,666.6 263.0,658.6 271.0,658.2 279.0,634.5 287.0,633.1 295.0,631.5 303.0,628.5 311.0,631.5 319.0,638.1 327.0,634.5 335.0,635.5 343.0,633.7 351.0,633.5 359.0,629.5 367.0,628.5 375.0,625.5 383.0,625.5 391.0,626.5 399.0,623.5 407.0,622.5 415.0,627.1 423.0,633.5 431.0,624.1 439.0,626.5 447.0,626.5 455.0,625.5 463.0,622.5 471.0,627.1 479.0,632.5 487.0,631.5 495.0,641.1 503.0,643.5 511.0,637.7 519.0,648.6 527.0,650.2 535.0,651.6 543.0,660.2 551.0,661.6 559.0,669.6 567.0,660.6 575.0,661.6 583.0,666.6 591.0,658.6 599.0,663.2 607.0,659.6 615.0,659.6 623.0,659.6 631.0,658.2 639.0,660.6 647.0,658.2 655.0,667.2 663.0,667.2 671.0,680.2 679.0,680.2 687.0,685.3 695.0,684.3 703.0,675.2 711.0,669.2 719.0,663.2 727.0,663.2 735.0,668.2 743.0,667.2 751.0,657.2 759.0,654.2 767.0,650.2 775.0,654.8 783.0,661.2 791.0,663.2 799.0,673.6 807.0,670.6 815.0,670.6 823.0,672.6 831.0,672.6 839.0,658.2 847.0,653.6 855.0,664.6 863.0,661.6 871.0,663.6 879.0,655.2 887.0,659.6 895.0,661.6 903.0,652.2 911.0,672.6 919.0,669.6 927.0,667.2 935.0,664.2 943.0,672.6 951.0,663.2 959.0,656.2 967.0,658.6 975.0,657.2 983.0,653.6 991.0,646.1 999.0,656.2 1007.0,645.1 1015.0,646.5 1023.0,641.5 1031.0,647.6 1039.0,643.5 1047.0,642.5 1055.0,641.1 1063.0,641.1 1071.0,646.5 1079.0,644.5 1087.0,639.5 1095.0,629.1 1103.0,628.1 1111.0,629.5 1119.0,625.1 1127.0,629.5 1135.0,628.1 1143.0,627.1 1151.0,638.1 1159.0,639.5 1167.0,641.1 1175.0,644.1 1183.0,656.6 1191.0,660.8 1199.0,671.2 1207.0,672.2 1215.0,673.6 1223.0,671.6 1231.0,676.6 1239.0,663.2 1247.0,666.6 1255.0,666.6 1263.0,658.2 1271.0,660.6 1279.0,660.6 1287.0,663.6 1295.0,666.2 1303.0,668.2" fill="none" stroke="#1e90ff" stroke-width="1"/>
</g>
<g font-family="Liberation Sans, sans-serif">
<rect x="1634" y="71" width="2" height="1" fill="#000" shape-rendering="crispEdges"/>
<text x="1641" y="76" font-size="12.4" fill="#000" text-anchor="start" font-weight="normal" textLength="44.4" lengthAdjust="spacingAndGlyphs">1344.80</text>
<rect x="1634" y="120" width="2" height="1" fill="#000" shape-rendering="crispEdges"/>
<text x="1641" y="125" font-size="12.4" fill="#000" text-anchor="start" font-weight="normal" textLength="44.4" lengthAdjust="spacingAndGlyphs">1337.30</text>
<rect x="1634" y="169" width="2" height="1" fill="#000" shape-rendering="crispEdges"/>
<text x="1641" y="174" font-size="12.4" fill="#000" text-anchor="start" font-weight="normal" textLength="44.4" lengthAdjust="spacingAndGlyphs">1329.95</text>
<rect x="1634" y="218" width="2" height="1" fill="#000" shape-rendering="crispEdges"/>
<text x="1641" y="223" font-size="12.4" fill="#000" text-anchor="start" font-weight="normal" textLength="44.4" lengthAdjust="spacingAndGlyphs">1322.45</text>
<rect x="1634" y="267" width="2" height="1" fill="#000" shape-rendering="crispEdges"/>
<text x="1641" y="272" font-size="12.4" fill="#000" text-anchor="start" font-weight="normal" textLength="44.4" lengthAdjust="spacingAndGlyphs">1314.95</text>
<rect x="1634" y="316" width="2" height="1" fill="#000" shape-rendering="crispEdges"/>
<text x="1641" y="321" font-size="12.4" fill="#000" text-anchor="start" font-weight="normal" textLength="44.4" lengthAdjust="spacingAndGlyphs">1307.60</text>
<rect x="1634" y="365" width="2" height="1" fill="#000" shape-rendering="crispEdges"/>
<text x="1641" y="370" font-size="12.4" fill="#000" text-anchor="start" font-weight="normal" textLength="44.4" lengthAdjust="spacingAndGlyphs">1300.10</text>
<rect x="1634" y="414" width="2" height="1" fill="#000" shape-rendering="crispEdges"/>
<text x="1641" y="419" font-size="12.4" fill="#000" text-anchor="start" font-weight="normal" textLength="44.4" lengthAdjust="spacingAndGlyphs">1292.60</text>
<rect x="1634" y="463" width="2" height="1" fill="#000" shape-rendering="crispEdges"/>
<text x="1641" y="468" font-size="12.4" fill="#000" text-anchor="start" font-weight="normal" textLength="44.4" lengthAdjust="spacingAndGlyphs">1285.10</text>
<rect x="1634" y="512" width="2" height="1" fill="#000" shape-rendering="crispEdges"/>
<text x="1641" y="517" font-size="12.4" fill="#000" text-anchor="start" font-weight="normal" textLength="44.4" lengthAdjust="spacingAndGlyphs">1277.75</text>
<rect x="1635" y="69" width="56" height="14" fill="#ff0000" shape-rendering="crispEdges"/>
<text x="1641" y="80.6" font-size="12.4" fill="#fff" text-anchor="start" font-weight="normal" textLength="44.4" lengthAdjust="spacingAndGlyphs">1344.13</text>
<rect x="1635" y="144" width="56" height="14" fill="#ff4500" shape-rendering="crispEdges"/>
<text x="1641" y="155.6" font-size="12.4" fill="#fff" text-anchor="start" font-weight="normal" textLength="44.4" lengthAdjust="spacingAndGlyphs">1332.74</text>
<rect x="1635" y="181" width="56" height="14" fill="#000000" shape-rendering="crispEdges"/>
<text x="1641" y="192.6" font-size="12.4" fill="#fff" text-anchor="start" font-weight="normal" textLength="44.4" lengthAdjust="spacingAndGlyphs">1327.04</text>
<rect x="1634" y="188" width="1" height="1" fill="#c0c0c0" shape-rendering="crispEdges"/>
<rect x="1635" y="210" width="56" height="14" fill="#00ff7f" shape-rendering="crispEdges"/>
<text x="1641" y="221.6" font-size="12.4" fill="#fff" text-anchor="start" font-weight="normal" textLength="44.4" lengthAdjust="spacingAndGlyphs">1322.72</text>
<rect x="1635" y="318" width="56" height="14" fill="#0000ff" shape-rendering="crispEdges"/>
<text x="1641" y="329.6" font-size="12.4" fill="#fff" text-anchor="start" font-weight="normal" textLength="44.4" lengthAdjust="spacingAndGlyphs">1306.33</text>
<rect x="1635" y="412" width="56" height="14" fill="#0000ff" shape-rendering="crispEdges"/>
<text x="1641" y="423.6" font-size="12.4" fill="#fff" text-anchor="start" font-weight="normal" textLength="44.4" lengthAdjust="spacingAndGlyphs">1292.06</text>
<text x="1637" y="546.5" font-size="12.4" fill="#000" text-anchor="start" font-weight="normal">8.298</text>
<rect x="1634" y="534" width="1" height="1" fill="#000"/>
<text x="1637" y="580.5" font-size="12.4" fill="#000" text-anchor="start" font-weight="normal">0.00</text>
<rect x="1634" y="576" width="1" height="1" fill="#000"/>
<text x="1637" y="591.5" font-size="12.4" fill="#000" text-anchor="start" font-weight="normal">-3.587</text>
<rect x="1634" y="594" width="1" height="1" fill="#000"/>
<text x="1637" y="610.5" font-size="12.4" fill="#000" text-anchor="start" font-weight="normal">100</text>
<rect x="1634" y="599" width="1" height="1" fill="#000"/>
<text x="1637" y="641.5" font-size="12.4" fill="#000" text-anchor="start" font-weight="normal">70</text>
<rect x="1634" y="637" width="1" height="1" fill="#000"/>
<text x="1637" y="691.5" font-size="12.4" fill="#000" text-anchor="start" font-weight="normal">30</text>
<rect x="1634" y="687" width="1" height="1" fill="#000"/>
<text x="1637.5" y="723" font-size="12.4" fill="#000" text-anchor="start" font-weight="normal">0</text>
<rect x="1634" y="725" width="1" height="1" fill="#000"/>
<rect x="7" y="727" width="1" height="3" fill="#000" shape-rendering="crispEdges"/>
<text x="6.7" y="742" font-size="12.4" fill="#000" text-anchor="start" font-weight="normal" textLength="66.5" lengthAdjust="spacingAndGlyphs">17 Jan 2019</text>
<rect x="103" y="727" width="1" height="3" fill="#000" shape-rendering="crispEdges"/>
<text x="102.7" y="742" font-size="12.4" fill="#000" text-anchor="start" font-weight="normal" textLength="70.8" lengthAdjust="spacingAndGlyphs">21 Jan 23:00</text>
<rect x="199" y="727" width="1" height="3" fill="#000" shape-rendering="crispEdges"/>
<text x="198.7" y="742" font-size="12.4" fill="#000" text-anchor="start" font-weight="normal" textLength="70.8" lengthAdjust="spacingAndGlyphs">23 Jan 20:00</text>
<rect x="295" y="727" width="1" height="3" fill="#000" shape-rendering="crispEdges"/>
<text x="294.7" y="742" font-size="12.4" fill="#000" text-anchor="start" font-weight="normal" textLength="70.8" lengthAdjust="spacingAndGlyphs">27 Jan 23:00</text>
<rect x="391" y="727" width="1" height="3" fill="#000" shape-rendering="crispEdges"/>
<text x="390.7" y="742" font-size="12.4" fill="#000" text-anchor="start" font-weight="normal" textLength="70.8" lengthAdjust="spacingAndGlyphs">29 Jan 20:00</text>
<rect x="487" y="727" width="1" height="3" fill="#000" shape-rendering="crispEdges"/>
<text x="486.7" y="742" font-size="12.4" fill="#000" text-anchor="start" font-weight="normal" textLength="70.8" lengthAdjust="spacingAndGlyphs">31 Jan 20:00</text>
<rect x="583" y="727" width="1" height="3" fill="#000" shape-rendering="crispEdges"/>
<text x="582.7" y="742" font-size="12.4" fill="#000" text-anchor="start" font-weight="normal" textLength="66" lengthAdjust="spacingAndGlyphs">4 Feb 20:00</text>
<rect x="679" y="727" width="1" height="3" fill="#000" shape-rendering="crispEdges"/>
<text x="678.7" y="742" font-size="12.4" fill="#000" text-anchor="start" font-weight="normal" textLength="66" lengthAdjust="spacingAndGlyphs">6 Feb 20:00</text>
<rect x="775" y="727" width="1" height="3" fill="#000" shape-rendering="crispEdges"/>
<text x="774.7" y="742" font-size="12.4" fill="#000" text-anchor="start" font-weight="normal" textLength="72.8" lengthAdjust="spacingAndGlyphs">10 Feb 23:00</text>
<rect x="871" y="727" width="1" height="3" fill="#000" shape-rendering="crispEdges"/>
<text x="870.7" y="742" font-size="12.4" fill="#000" text-anchor="start" font-weight="normal" textLength="72.8" lengthAdjust="spacingAndGlyphs">12 Feb 20:00</text>
<rect x="967" y="727" width="1" height="3" fill="#000" shape-rendering="crispEdges"/>
<text x="966.7" y="742" font-size="12.4" fill="#000" text-anchor="start" font-weight="normal" textLength="72.8" lengthAdjust="spacingAndGlyphs">14 Feb 20:00</text>
<rect x="1063" y="727" width="1" height="3" fill="#000" shape-rendering="crispEdges"/>
<text x="1062.7" y="742" font-size="12.4" fill="#000" text-anchor="start" font-weight="normal" textLength="72.8" lengthAdjust="spacingAndGlyphs">18 Feb 23:00</text>
<rect x="1159" y="727" width="1" height="3" fill="#000" shape-rendering="crispEdges"/>
<text x="1158.7" y="742" font-size="12.4" fill="#000" text-anchor="start" font-weight="normal" textLength="72.8" lengthAdjust="spacingAndGlyphs">20 Feb 20:00</text>
<rect x="1255" y="727" width="1" height="3" fill="#000" shape-rendering="crispEdges"/>
<text x="1254.7" y="742" font-size="12.4" fill="#000" text-anchor="start" font-weight="normal" textLength="72.8" lengthAdjust="spacingAndGlyphs">24 Feb 23:00</text>
<text x="11.2" y="549" font-size="12.4" fill="#000" text-anchor="start" font-weight="normal" textLength="160.3" lengthAdjust="spacingAndGlyphs">MACD(12,26,9) -0.250 0.048</text>
<text x="11.2" y="613" font-size="12.4" fill="#000" text-anchor="start" font-weight="normal" textLength="91.6" lengthAdjust="spacingAndGlyphs">RSI(14) 45.5158</text>
<polygon points="10,47 19,47 14.5,42" fill="#000"/>
<text x="25" y="49" font-size="12.4" fill="#000" text-anchor="start" font-weight="normal" textLength="68.3" lengthAdjust="spacingAndGlyphs">XAUUSD-,H4</text>
<text x="102.8" y="49" font-size="12.4" fill="#000" text-anchor="start" font-weight="normal" textLength="44.3" lengthAdjust="spacingAndGlyphs">1327.93</text>
<text x="152.8" y="49" font-size="12.4" fill="#000" text-anchor="start" font-weight="normal" textLength="44.3" lengthAdjust="spacingAndGlyphs">1328.25</text>
<text x="202.8" y="49" font-size="12.4" fill="#000" text-anchor="start" font-weight="normal" textLength="44.3" lengthAdjust="spacingAndGlyphs">1326.45</text>
<text x="252.8" y="49" font-size="12.4" fill="#000" text-anchor="start" font-weight="normal" textLength="44.3" lengthAdjust="spacingAndGlyphs">1327.04</text>
</g>
<text x="1184" y="297" font-size="52" fill="#fe2412" text-anchor="start" textLength="362" lengthAdjust="spacingAndGlyphs" style="font-family:'Liberation Sans','Noto Sans CJK SC',sans-serif;">多空转折点1322</text>
<defs>
<linearGradient id="gTop" x1="0" y1="0" x2="0" y2="1"><stop offset="0" stop-color="#fd5252"/><stop offset="1" stop-color="#e53838"/></linearGradient>
<linearGradient id="gBot" x1="0" y1="0" x2="0" y2="1"><stop offset="0" stop-color="#e03232"/><stop offset="0.5" stop-color="#cc1c1c"/><stop offset="1" stop-color="#b00000"/></linearGradient>
<linearGradient id="gBtn" x1="0" y1="0" x2="0" y2="1"><stop offset="0" stop-color="#f2f2f2"/><stop offset="0.45" stop-color="#e2e2e2"/><stop offset="0.5" stop-color="#d2d2d2"/><stop offset="1" stop-color="#c8c8c8"/></linearGradient>
</defs>
<!-- ===== toolbar ===== -->
<g shape-rendering="crispEdges" fill="#5a5a5a">
 <!-- fibo/dotted lines icon -->
<g fill="#747474" shape-rendering="auto"><rect x="6.30" y="5" width="1.5" height="2"/><rect x="8.86" y="5" width="1.5" height="2"/><rect x="11.42" y="5" width="1.5" height="2"/><rect x="13.98" y="5" width="1.5" height="2"/><rect x="16.54" y="5" width="1.5" height="2"/><rect x="19.10" y="5" width="1.5" height="2"/><rect x="21.66" y="5" width="1.5" height="2"/><rect x="6.30" y="9" width="1.5" height="2"/><rect x="8.86" y="9" width="1.5" height="2"/><rect x="11.42" y="9" width="1.5" height="2"/><rect x="13.98" y="9" width="1.5" height="2"/><rect x="16.54" y="9" width="1.5" height="2"/><rect x="19.10" y="9" width="1.5" height="2"/><rect x="21.66" y="9" width="1.5" height="2"/><rect x="6.30" y="14" width="1.5" height="2"/><rect x="8.86" y="14" width="1.5" height="2"/><rect x="11.42" y="14" width="1.5" height="2"/><rect x="13.98" y="14" width="1.5" height="2"/><rect x="16.54" y="14" width="1.5" height="2"/><rect x="19.10" y="14" width="1.5" height="2"/><rect x="21.66" y="14" width="1.5" height="2"/><rect x="6.30" y="19" width="1.5" height="2"/><rect x="8.86" y="19" width="1.5" height="2"/><rect x="11.42" y="19" width="1.5" height="2"/><rect x="13.98" y="19" width="1.5" height="2"/><rect x="16.54" y="19" width="1.5" height="2"/></g>
 <path d="M19.6,19.2h4.9l-0.3,1.5h-3.2l-0.3,1.5h2.8l-0.3,1.4h-2.8l-0.5,2.3h-1.7z" fill="#4c4c4c" shape-rendering="auto"/>
 <!-- dotted T box -->
<g fill="#4a4a4a" shape-rendering="auto"><rect x="76.00" y="6.6" width="1.1" height="1.1"/><rect x="76.00" y="21.9" width="1.1" height="1.1"/><rect x="78.33" y="6.6" width="1.1" height="1.1"/><rect x="78.33" y="21.9" width="1.1" height="1.1"/><rect x="80.67" y="6.6" width="1.1" height="1.1"/><rect x="80.67" y="21.9" width="1.1" height="1.1"/><rect x="83.00" y="6.6" width="1.1" height="1.1"/><rect x="83.00" y="21.9" width="1.1" height="1.1"/><rect x="85.33" y="6.6" width="1.1" height="1.1"/><rect x="85.33" y="21.9" width="1.1" height="1.1"/><rect x="87.67" y="6.6" width="1.1" height="1.1"/><rect x="87.67" y="21.9" width="1.1" height="1.1"/><rect x="90.00" y="6.6" width="1.1" height="1.1"/><rect x="90.00" y="21.9" width="1.1" height="1.1"/><rect x="76" y="9.15" width="1.1" height="1.1"/><rect x="90" y="9.15" width="1.1" height="1.1"/><rect x="76" y="11.70" width="1.1" height="1.1"/><rect x="90" y="11.70" width="1.1" height="1.1"/><rect x="76" y="14.25" width="1.1" height="1.1"/><rect x="90" y="14.25" width="1.1" height="1.1"/><rect x="76" y="16.80" width="1.1" height="1.1"/><rect x="90" y="16.80" width="1.1" height="1.1"/><rect x="76" y="19.35" width="1.1" height="1.1"/><rect x="90" y="19.35" width="1.1" height="1.1"/><rect x="74.6" y="5.2" width="3.2" height="2.6" fill="#666"/></g>
 <path d="M78.4,10h10.3v2h-3.7v9h-3v-9h-3.6z" fill="#727272" shape-rendering="auto"/>
 <!-- separator + grip -->
 <rect x="147" y="0" width="1" height="30" fill="#a8a8a8"/>
 <path d="M151,1h3v1h-3zM151,3h3v1h-3zM151,5h3v1h-3zM151,7h3v1h-3zM151,9h3v1h-3zM151,11h3v1h-3zM151,13h3v1h-3zM151,15h3v1h-3zM151,17h3v1h-3zM151,19h3v1h-3zM151,21h3v1h-3zM151,23h3v1h-3zM151,25h3v1h-3zM151,27h3v1h-3z" fill="#b4b4b4"/>
 <!-- H4 pressed -->
 <rect x="327" y="0" width="31" height="28" fill="#f8f8f8"/>
 <rect x="327" y="0" width="1" height="28" fill="#a0a0a0"/>
 <rect x="462" y="0" width="1" height="30" fill="#a8a8a8"/>
</g>
<!-- A icon -->
<text x="44" y="20.9" font-size="17" font-weight="bold" fill="#565656" textLength="10" lengthAdjust="spacingAndGlyphs" font-family="Liberation Sans, sans-serif">A</text>
<!-- arrows/check icon -->
<g fill="#555">
 <polygon points="108.5,11.5 113.1,6.4 117.7,11.5 115.4,11.5 115.4,12.9 110.6,12.9 110.6,11.5"/>
 <polygon points="117.4,18.3 119.8,18.3 119.8,17 124.3,17 124.3,18.3 126.4,18.3 121.9,23.3"/>
 <path d="M110.6,16.6 l0.9,-1 l2.7,2.2 l5.2,-6 l0.9,0.9 l-6,7z"/>
</g>
<polygon points="132,13.5 139.5,13.5 135.75,17.5" fill="#000"/>
<g font-family="Liberation Sans, sans-serif" font-size="12.2" fill="#484848">
 <text x="164" y="19" textLength="16" lengthAdjust="spacingAndGlyphs">M1</text>
 <text x="198" y="19" textLength="16" lengthAdjust="spacingAndGlyphs">M5</text>
 <text x="229.7" y="19" textLength="22" lengthAdjust="spacingAndGlyphs">M15</text>
 <text x="263.4" y="19" textLength="22.4" lengthAdjust="spacingAndGlyphs">M30</text>
 <text x="301.5" y="19" textLength="15" lengthAdjust="spacingAndGlyphs">H1</text>
 <text x="333.6" y="19" textLength="16.6" lengthAdjust="spacingAndGlyphs">H4</text>
 <text x="369.3" y="19" textLength="15" lengthAdjust="spacingAndGlyphs">D1</text>
 <text x="402.8" y="19" textLength="17.6" lengthAdjust="spacingAndGlyphs">W1</text>
 <text x="434.5" y="19" textLength="18.8" lengthAdjust="spacingAndGlyphs">MN</text>
</g>
<!-- ===== one-click trade panel ===== -->
<g shape-rendering="crispEdges">
 <rect x="10" y="57" width="283" height="76" fill="#ffffff"/>
 <!-- lower boxes -->
 <rect x="10" y="84" width="141" height="49" fill="url(#gBot)"/>
 <rect x="153" y="84" width="140" height="49" fill="url(#gBot)"/>
 <rect x="10" y="84" width="141" height="1" fill="#b40000"/>
 <rect x="153" y="84" width="140" height="1" fill="#b40000"/>
 <!-- SELL / BUY tabs -->
 <rect x="10" y="57" width="68" height="28" fill="url(#gTop)"/>
 <rect x="225" y="57" width="68" height="28" fill="url(#gTop)"/>
 <rect x="10" y="57" width="68" height="1" fill="#b40000"/>
 <rect x="225" y="57" width="68" height="1" fill="#b40000"/>
 <rect x="10" y="57" width="1" height="76" fill="#b40000"/>
 <rect x="77" y="57" width="1" height="28" fill="#b40000"/>
 <rect x="225" y="57" width="1" height="28" fill="#b40000"/>
 <rect x="292" y="57" width="1" height="76" fill="#b40000"/>
 <rect x="150" y="84" width="1" height="49" fill="#b40000"/>
 <rect x="153" y="84" width="1" height="49" fill="#b40000"/>
 <rect x="10" y="132" width="141" height="1" fill="#a80000"/>
 <rect x="153" y="132" width="140" height="1" fill="#a80000"/>
 <!-- underlines -->
 <rect x="14" y="83" width="60" height="1" fill="#8c0000"/>
 <rect x="14" y="84" width="60" height="1" fill="#f26464"/>
 <rect x="229" y="83" width="60" height="1" fill="#8c0000"/>
 <rect x="229" y="84" width="60" height="1" fill="#f26464"/>
 <!-- spinner -->
 <rect x="80.5" y="57.5" width="142" height="24" fill="#ffffff" stroke="#a6a9b6" stroke-width="1"/>
 <rect x="82" y="59" width="22" height="21" fill="url(#gBtn)"/>
 <rect x="104" y="58" width="1" height="23" fill="#a6a9b6"/>
 <rect x="199" y="59" width="22" height="21" fill="url(#gBtn)"/>
 <rect x="198" y="58" width="1" height="23" fill="#a6a9b6"/>
</g>
<polygon points="89.5,68 96,68 92.75,72" fill="#3f5cc0"/>
<polygon points="207,71.3 214,71.3 210.5,67.3" fill="#3f5cc0"/>
<g font-family="Liberation Sans, sans-serif">
 <text x="27.6" y="76" font-size="15.6" fill="#fff4ea" textLength="32" lengthAdjust="spacingAndGlyphs">SELL</text>
 <text x="244.5" y="76" font-size="15.6" fill="#fff4ea" textLength="28.4" lengthAdjust="spacingAndGlyphs">BUY</text>
 <text x="164.6" y="75.2" font-size="15" fill="#000" textLength="29.4" lengthAdjust="spacingAndGlyphs">1.00</text>
 <text x="40.7" y="121.6" font-size="15.4" font-weight="bold" fill="#fff" textLength="34.8" lengthAdjust="spacingAndGlyphs">1327</text>
 <text x="182.9" y="121.6" font-size="15.4" font-weight="bold" fill="#fff" textLength="34.4" lengthAdjust="spacingAndGlyphs">1328</text>
 <text x="80.5" y="122.5" font-size="42.2" fill="#fff" textLength="41" lengthAdjust="spacingAndGlyphs">03</text>
 <text x="223.5" y="122.5" font-size="42.2" fill="#fff" textLength="42.3" lengthAdjust="spacingAndGlyphs">00</text>
</g>

</svg>
</body></html>
